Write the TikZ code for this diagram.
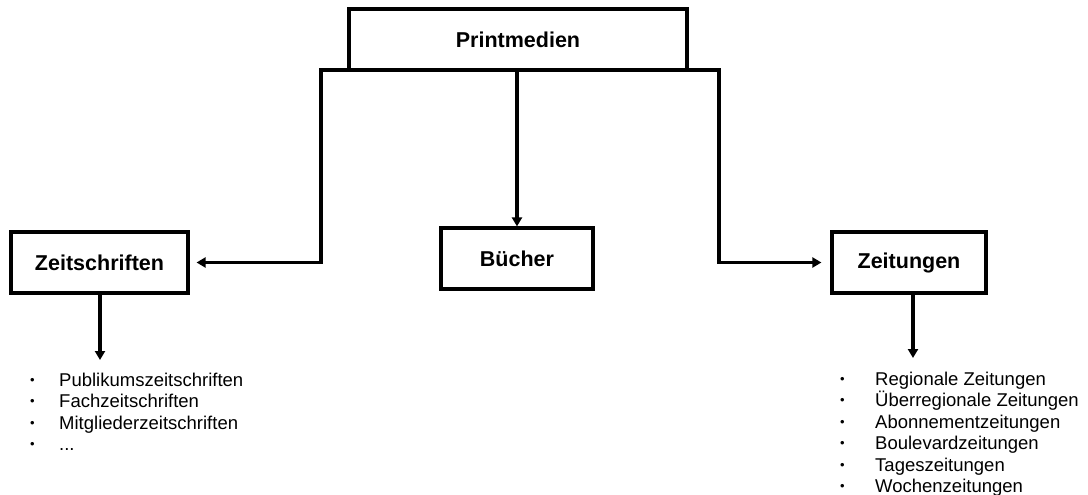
\documentclass[tikz,border=0pt]{standalone}
\usepackage{fontspec}
\setmainfont{Liberation Sans}
\usetikzlibrary{arrows.meta}
\newcommand{\blt}{\raisebox{2pt}{\fontsize{13}{13}\selectfont •}}
\begin{document}
\begin{tikzpicture}[x=1pt,y=1pt,
  box/.style={draw,line width=3.2pt,minimum height=61pt,inner sep=0pt,
    font=\fontsize{21.5}{25}\selectfont\bfseries},
  link/.style={line width=3.2pt,line cap=rect},
  arr/.style={line width=3.2pt,-{Triangle[length=9pt,width=10pt]}},
  listtext/.style={anchor=base west,inner sep=0pt,
    font=\fontsize{18.5}{21.5}\selectfont}]
\useasboundingbox (0,0) rectangle (1088,-495);

% category boxes
\node[box,minimum width=338pt] (pm) at (518,-39.5) {Printmedien};
\node[box,minimum width=177pt] (zs) at (99.5,-262.5) {Zeitschriften};
\node[box,minimum width=152pt] (bu) at (517,-258.5) {Bücher};
\node[box,minimum width=154pt] (zg) at (909,-262.5) {Zeitungen};

% branching bar under the top box
\coordinate (L) at (321,-70);
\coordinate (R) at (719,-70);
\draw[link] (L) -- (R);
\draw[arr,shorten >=7pt] (L) |- (zs.east);
\draw[arr,shorten >=9pt] (R) |- (zg.west);
\draw[arr] (pm.south -| bu.north) -- (bu.north);

% sub-type lists
\node[listtext] (zslist) at (30,-386) {%
  \begin{tabular}[t]{@{}p{29pt}@{}l@{}}
  \blt & Publikumszeitschriften\\
  \blt & Fachzeitschriften\\
  \blt & Mitgliederzeitschriften\\
  \blt & ...
  \end{tabular}};
\node[listtext] (zglist) at (840,-385) {%
  \begin{tabular}[t]{@{}p{35pt}@{}l@{}}
  \blt & Regionale Zeitungen\\
  \blt & Überregionale Zeitungen\\
  \blt & Abonnementzeitungen\\
  \blt & Boulevardzeitungen\\
  \blt & Tageszeitungen\\
  \blt & Wochenzeitungen
  \end{tabular}};

\coordinate (zsend) at (100,-360);
\coordinate (zgend) at (913,-358);
\draw[arr] (zs.south -| zsend) -- (zsend);
\draw[arr] (zg.south -| zgend) -- (zgend);
\end{tikzpicture}
\end{document}
